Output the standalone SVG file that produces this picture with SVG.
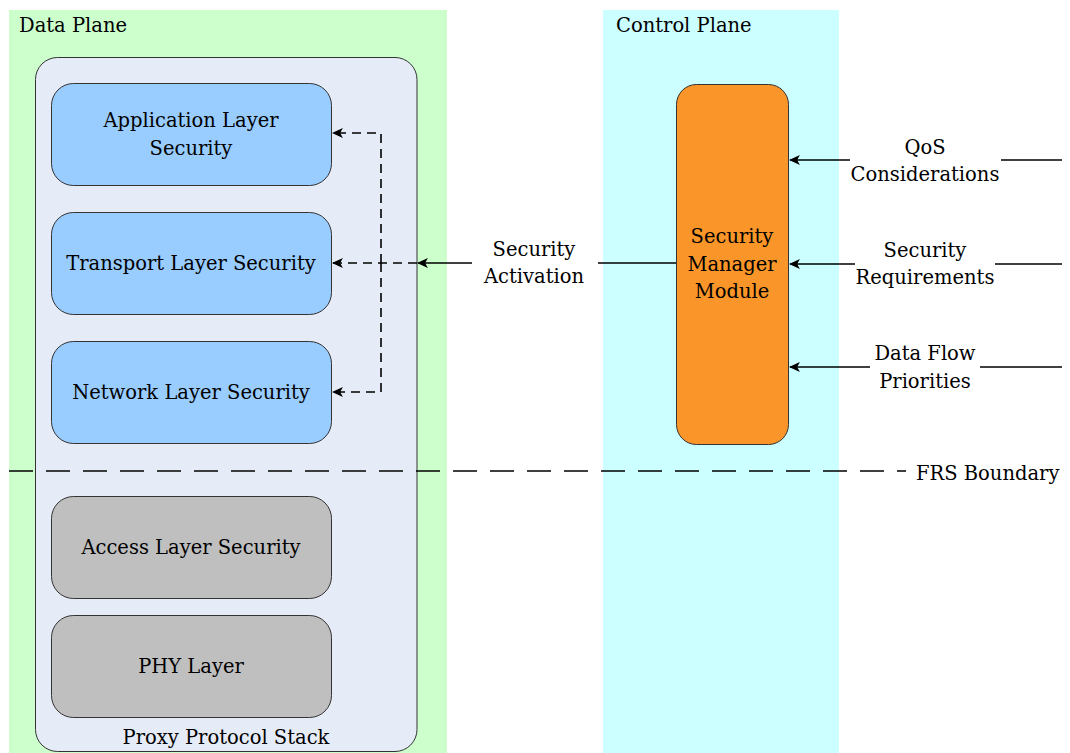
<svg xmlns="http://www.w3.org/2000/svg" width="1070" height="753" viewBox="0 0 1070 753">
<defs>
<marker id="ah" viewBox="0 0 10 10" refX="9" refY="5" markerWidth="11" markerHeight="11" markerUnits="userSpaceOnUse" orient="auto">
<path d="M0,0.5 L10,5 L0,9.5 L2.5,5 Z" fill="#000"/>
</marker>
</defs>
<rect width="1070" height="753" fill="#fff"/>
<g id="data-plane">
<rect x="9" y="10" width="438" height="743" fill="#ccffcc"/>
<text x="19" y="32" font-family="DejaVu Serif" font-size="19.5">Data Plane</text>
</g>
<g id="control-plane">
<rect x="603" y="10" width="236" height="743" fill="#ccffff"/>
<text x="616" y="32" font-family="DejaVu Serif" font-size="19.5">Control Plane</text>
</g>
<g id="proxy-stack">
<rect x="35.5" y="57.5" width="381.5" height="694" rx="22" fill="#e5ecf7" stroke="#333" stroke-width="1"/>
<text text-anchor="middle" x="226" y="744" font-family="DejaVu Serif" font-size="19.5">Proxy Protocol Stack</text>
</g>
<g id="app-layer">
<rect x="51.5" y="83.5" width="280" height="102" rx="22" fill="#99ccff" stroke="#333" stroke-width="1"/>
<text text-anchor="middle" x="191" y="127" font-family="DejaVu Serif" font-size="19.5">Application Layer</text>
<text text-anchor="middle" x="191" y="155" font-family="DejaVu Serif" font-size="19.5">Security</text>
</g>
<g id="transport-layer">
<rect x="51.5" y="212.5" width="280" height="102" rx="22" fill="#99ccff" stroke="#333" stroke-width="1"/>
<text text-anchor="middle" x="191" y="270" font-family="DejaVu Serif" font-size="19.5">Transport Layer Security</text>
</g>
<g id="network-layer">
<rect x="51.5" y="341.5" width="280" height="102" rx="22" fill="#99ccff" stroke="#333" stroke-width="1"/>
<text text-anchor="middle" x="191" y="399" font-family="DejaVu Serif" font-size="19.5">Network Layer Security</text>
</g>
<g id="access-layer">
<rect x="51.5" y="496.5" width="280" height="102" rx="22" fill="#bfbfbf" stroke="#333" stroke-width="1"/>
<text text-anchor="middle" x="191" y="554" font-family="DejaVu Serif" font-size="19.5">Access Layer Security</text>
</g>
<g id="phy-layer">
<rect x="51.5" y="615.5" width="280" height="102" rx="22" fill="#bfbfbf" stroke="#333" stroke-width="1"/>
<text text-anchor="middle" x="191" y="673" font-family="DejaVu Serif" font-size="19.5">PHY Layer</text>
</g>
<g id="security-manager">
<rect x="676.5" y="84.5" width="112" height="360" rx="20" fill="#fa9629" stroke="#333" stroke-width="1"/>
<text text-anchor="middle" x="732" y="243" font-family="DejaVu Serif" font-size="19.5">Security</text>
<text text-anchor="middle" x="732" y="271" font-family="DejaVu Serif" font-size="19.5">Manager</text>
<text text-anchor="middle" x="732" y="298" font-family="DejaVu Serif" font-size="19.5">Module</text>
</g>
<g id="frs-boundary">
<line x1="9" y1="471" x2="906" y2="471" stroke="#000" stroke-width="1.6" stroke-dasharray="24 13"/>
<text x="916" y="480" font-family="DejaVu Serif" font-size="19.5">FRS Boundary</text>
</g>
<g id="connectors" stroke="#000" stroke-width="1.6" fill="none">
<line x1="676" y1="263" x2="598" y2="263"/>
<line x1="472" y1="263" x2="418" y2="263" marker-end="url(#ah)"/>
<line x1="417" y1="263" x2="333" y2="263" stroke-dasharray="9 6" marker-end="url(#ah)"/>
<polyline points="381,263 381,133 333,133" stroke-dasharray="9 6" marker-end="url(#ah)"/>
<polyline points="381,263 381,392 333,392" stroke-dasharray="9 6" marker-end="url(#ah)"/>
<line x1="1062" y1="160" x2="1001" y2="160"/>
<line x1="850" y1="160" x2="790" y2="160" marker-end="url(#ah)"/>
<line x1="1062" y1="264" x2="995" y2="264"/>
<line x1="855" y1="264" x2="790" y2="264" marker-end="url(#ah)"/>
<line x1="1062" y1="367" x2="980" y2="367"/>
<line x1="870" y1="367" x2="790" y2="367" marker-end="url(#ah)"/>
</g>
<g id="connector-labels">
<text text-anchor="middle" x="534" y="256" font-family="DejaVu Serif" font-size="19.5">Security</text>
<text text-anchor="middle" x="534" y="283" font-family="DejaVu Serif" font-size="19.5">Activation</text>
<text text-anchor="middle" x="925" y="154" font-family="DejaVu Serif" font-size="19.5">QoS</text>
<text text-anchor="middle" x="925" y="181" font-family="DejaVu Serif" font-size="19.5">Considerations</text>
<text text-anchor="middle" x="925" y="257" font-family="DejaVu Serif" font-size="19.5">Security</text>
<text text-anchor="middle" x="925" y="284" font-family="DejaVu Serif" font-size="19.5">Requirements</text>
<text text-anchor="middle" x="925" y="360" font-family="DejaVu Serif" font-size="19.5">Data Flow</text>
<text text-anchor="middle" x="925" y="388" font-family="DejaVu Serif" font-size="19.5">Priorities</text>
</g>
</svg>
